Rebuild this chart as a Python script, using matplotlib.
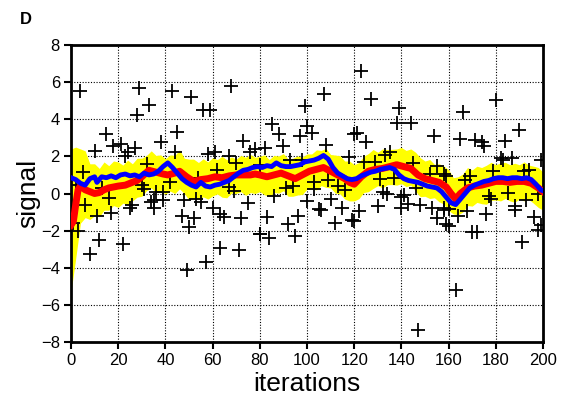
import matplotlib
matplotlib.use("Agg")
import matplotlib.pyplot as plt
import numpy as np

plt.rcParams['font.family'] = ['Liberation Sans', 'DejaVu Sans']

# scatter observations (iteration, signal)
obs_x = [4, 29, 33, 28, 15, 10, 18, 21, 24, 23, 27, 38, 32, 5, 13, 16, 30, 31, 36, 39, 35, 34, 35, 6, 11, 17, 25, 26, 1, 3, 12, 8, 22, 2,
         43, 51, 56, 59, 68, 45, 73, 44, 58, 61, 67, 70, 76, 78, 62, 54, 42, 69, 67, 39, 48, 53, 55, 60, 75, 47, 52, 50, 63, 65, 72, 63, 71, 57, 49, 80,
         107, 99, 85, 88, 97, 100, 102, 90, 82, 108, 120, 118, 80, 93, 98, 103, 109, 113, 116, 91, 94, 103, 86, 100, 110, 105, 106, 115, 83, 96, 92, 112, 120, 80, 84, 95,
         123, 127, 139, 138, 144, 121, 125, 154, 124, 129, 133, 135, 145, 155, 158, 152, 131, 137, 146, 132, 134, 140, 141, 143, 140, 148, 130, 122, 119, 153, 155, 158, 159, 147,
         180, 166, 190, 165, 171, 174, 175, 184, 182, 183, 187, 199, 159, 167, 169, 179, 192, 194, 177, 178, 185, 193, 198, 158, 160, 164, 168, 176, 188, 188, 196, 160, 170, 172, 191, 198, 199, 163]
obs_y = [5.52, 5.67, 4.77, 4.23, 3.19, 2.29, 2.58, 2.69, 2.22, 2.04, 2.43, 2.79, 1.61, 1.17, 0.28, -0.26, 0.46, 0.24, 0.10, -0.37, -0.33, -0.44, -0.76, -0.62, -1.19, -1.05, -0.76, -0.62, -1.61, -2.02, -2.49, -3.24, -2.74, 0.46,
         5.52, 5.20, 4.50, 4.50, 5.78, 3.33, 2.83, 2.25, 2.11, 2.25, 2.04, 1.64, 2.22, 2.40, 1.25, 0.85, 0.64, 0.13, 0.35, 0.10, -0.37, -0.30, -0.44, -0.80, -0.51, -1.23, -1.34, -1.79, -1.12, -1.27, -1.34, -2.92, -3.04, -3.71, -4.14, -2.20,
         5.34, 4.70, 3.73, 3.19, 3.08, 3.65, 3.26, 2.54, 2.47, 2.61, 3.19, 1.97, 1.54, 1.79, 1.79, 0.64, 0.71, 0.39, 0.20, 0.28, 0.39, 0.24, -0.15, -0.40, -0.30, -0.84, -0.91, -0.80, -1.27, -1.19, -1.66, -1.61, -1.48, -2.20, -2.38, -2.27,
         6.60, 5.09, 4.59, 3.78, 3.78, 3.24, 2.79, 3.11, 1.68, 1.68, 2.07, 2.25, 1.63, 1.50, 1.03, 1.03, 0.78, 0.85, 0.31, 0.06, -0.01, -0.19, -0.08, -0.58, -0.80, -0.62, -0.66, -0.94, -1.43, -0.80, -1.34, -0.89, -1.66, -7.35,
         5.04, 4.37, 3.42, 2.94, 2.88, 2.76, 2.58, 2.83, 1.93, 1.80, 1.93, 1.80, 0.96, 0.73, 0.96, 1.21, 1.21, 1.27, -0.12, -0.30, 0.01, -0.35, -0.04, -0.80, -0.84, -1.19, -0.94, -1.12, -0.66, -0.89, -1.25, -1.73, -2.09, -2.09, -2.60, -1.97, -1.70, -5.20]

# red running estimate
red_x = [0, 1, 2, 3, 4, 6, 8, 10, 12, 14, 16, 18, 20, 23, 26, 28, 30, 33, 36, 39, 41, 44, 46, 49, 52, 55, 58, 61, 64, 67, 70, 73, 76, 78, 80,
         83, 86, 89, 92, 95, 98, 101, 104, 107, 110, 113, 116, 118, 120, 123, 126, 129, 132, 135, 138, 141, 144, 147, 150, 153, 156, 159, 161, 163,
         165, 168, 171, 174, 177, 180, 183, 186, 189, 192, 195, 198, 200]
red_y = [-1.7, -1.5, -0.6, 0.2, 0.4, 0.2, 0.1, 0.0, 0.05, 0.2, 0.3, 0.35, 0.4, 0.45, 0.6, 0.7, 0.9, 1.25, 1.15, 1.05, 1.0, 1.1, 1.2, 0.9, 0.65,
         0.75, 0.8, 0.9, 0.85, 0.95, 1.0, 1.0, 1.0, 1.05, 1.0, 0.9, 1.0, 1.1, 0.95, 0.8, 1.0, 1.2, 1.3, 1.4, 1.2, 1.0, 0.8, 0.6, 0.5, 0.9, 1.2, 1.3,
         1.35, 1.45, 1.55, 1.45, 1.35, 1.0, 0.8, 0.7, 0.6, 0.35, 0.0, -0.3, 0.0, 0.3, 0.4, 0.45, 0.55, 0.65, 0.65, 0.6, 0.65, 0.65, 0.55, 0.3, 0.1]

# yellow uncertainty band: centre, offset above, offset below (every 2 iterations)
band_x = list(range(0, 201, 2))
band_c = [-1.7, -0.6, 0.4, 0.2, 0.1, 0.0, 0.05, 0.2, 0.3, 0.35, 0.4, 0.43, 0.5, 0.6, 0.7, 0.9, 1.15, 1.2, 1.15, 1.08,
          1.02, 1.03, 1.1, 1.2, 1.0, 0.8, 0.65, 0.72, 0.77, 0.8, 0.87, 0.88, 0.85, 0.92, 0.97, 1.0, 1.0, 1.0, 1.0, 1.05,
          1.0, 0.93, 0.93, 1.0, 1.07, 1.05, 0.95, 0.85, 0.87, 1.0, 1.13, 1.23, 1.3, 1.37, 1.33, 1.2, 1.07, 0.93, 0.8, 0.6,
          0.5, 0.77, 1.0, 1.2, 1.27, 1.32, 1.35, 1.42, 1.48, 1.55, 1.48, 1.42, 1.35, 1.12, 0.93, 0.8, 0.73, 0.67, 0.6, 0.43,
          0.18, -0.15, -0.15, 0.1, 0.3, 0.37, 0.42, 0.45, 0.52, 0.58, 0.65, 0.65, 0.63, 0.6, 0.63, 0.65, 0.65, 0.58, 0.47, 0.3,
          0.1]
band_up = [4.1, 3.1, 2.0, 2.1, 1.5, 1.6, 1.3, 1.5, 1.2, 1.4, 1.3, 1.1, 1.3, 1.0, 1.2, 1.0, 0.9, 1.1, 0.9, 1.0,
           0.85, 1.05, 0.95, 1.15, 0.9, 1.05, 1.2, 0.95, 1.1, 0.9, 1.05, 0.95, 1.15, 0.9, 1.0, 0.85, 1.05, 0.95, 1.1, 0.9,
           1.0, 1.15, 0.9, 1.05, 0.95, 1.1, 0.9, 1.05, 1.15, 0.95, 1.0, 0.9, 1.05, 0.95, 1.1, 0.9, 1.0, 1.1, 0.95, 1.15,
           1.05, 0.9, 1.0, 0.95, 1.1, 0.9, 1.05, 0.95, 0.9, 0.85, 1.0, 0.9, 1.05, 1.1, 1.0, 0.95, 1.1, 0.9, 1.0, 1.05,
           1.1, 1.0, 1.05, 0.95, 1.1, 0.9, 1.05, 0.95, 1.0, 1.1, 0.9, 1.0, 1.05, 0.95, 1.0, 0.9, 1.05, 0.95, 1.0, 1.1,
           1.05]
band_dn = [3.6, 2.9, 2.0, 1.5, 1.5, 1.2, 1.3, 1.1, 1.2, 1.0, 1.15, 0.95, 1.1, 1.0, 0.9, 1.05, 1.0, 0.9, 1.1, 0.95,
           1.05, 0.9, 1.1, 0.95, 1.0, 1.15, 0.9, 1.05, 0.95, 1.1, 1.0, 0.9, 1.05, 1.15, 0.95, 1.0, 0.9, 1.1, 0.95, 1.05,
           0.9, 1.0, 1.1, 0.95, 1.05, 0.9, 1.1, 1.0, 0.95, 1.05, 0.9, 1.0, 1.1, 0.95, 1.0, 0.9, 1.05, 0.95, 1.1, 1.0,
           0.9, 1.05, 0.95, 1.1, 1.0, 0.9, 1.05, 0.95, 1.0, 1.1, 0.95, 1.05, 0.9, 1.0, 1.1, 0.95, 1.0, 0.9, 1.05, 1.0,
           1.1, 0.95, 1.0, 1.1, 0.95, 1.05, 0.9, 1.0, 1.1, 0.95, 1.0, 1.05, 0.9, 1.0, 1.1, 0.95, 1.05, 0.9, 1.0, 1.05,
           1.0]

# blue estimate
blue_x = [0, 2, 4, 6, 8, 10, 11, 13, 15, 17, 19, 21, 23, 25, 27, 29, 31, 33, 35, 37, 39, 41, 43, 45, 47, 49, 51, 53, 55, 57, 59, 61, 63, 65, 67,
          69, 71, 73, 75, 77, 79, 81, 83, 85, 87, 89, 91, 93, 95, 97, 99, 101, 103, 105, 107, 109, 111, 113, 115, 117, 119, 121, 123, 125, 127,
          129, 131, 133, 135, 137, 139, 141, 143, 145, 147, 149, 151, 153, 155, 157, 159, 161, 163, 165, 167, 169, 171, 173, 175, 177, 179, 181,
          183, 185, 187, 189, 191, 193, 195, 197, 199, 200]
blue_y = [0.85, 0.75, 0.55, 0.45, 0.8, 0.9, 0.6, 0.9, 0.85, 0.95, 0.85, 1.0, 1.05, 0.95, 1.0, 0.9, 1.1, 1.0, 1.05, 1.2, 1.45, 1.65, 1.4, 1.1,
          0.8, 0.6, 0.45, 0.35, 0.6, 0.4, 0.35, 0.45, 0.5, 0.6, 0.7, 0.9, 1.1, 1.25, 1.3, 1.4, 1.45, 1.4, 1.5, 1.45, 1.65, 1.5, 1.45, 1.45, 1.5,
          1.55, 1.7, 1.75, 1.8, 1.9, 2.05, 1.85, 1.4, 1.1, 0.95, 0.8, 0.75, 0.8, 0.95, 1.05, 1.15, 1.2, 1.3, 1.35, 1.4, 1.3, 1.0, 0.8, 0.7, 0.65,
          0.6, 0.5, 0.4, 0.35, 0.3, 0.1, -0.2, -0.5, -0.6, -0.3, 0.0, 0.3, 0.45, 0.55, 0.65, 0.7, 0.8, 0.85, 0.85, 0.8, 0.85, 0.85, 0.8, 0.85,
          0.75, 0.5, 0.2, 0.15]

x_ticks = [0, 20, 40, 60, 80, 100, 120, 140, 160, 180, 200]
y_ticks = [-8, -6, -4, -2, 0, 2, 4, 6, 8]

fig = plt.figure(figsize=(5.66, 3.99), dpi=100)
ax = fig.add_axes([71/566, 57/399, 472/566, 297/399])

bc = np.array(band_c, float)
ax.fill_between(band_x, bc - np.array(band_dn), bc + np.array(band_up), color='#ffff00', lw=0, zorder=2)
ax.plot(obs_x, obs_y, ls='none', marker='+', ms=10, mew=1.3, color='black', zorder=3)
ax.plot(red_x, red_y, color='#ff0000', lw=5, zorder=4, solid_joinstyle='round')
ax.plot(blue_x, blue_y, color='#0000ff', lw=3.5, zorder=5, solid_joinstyle='round')

ax.set_xlim(0, 200)
ax.set_ylim(-8, 8)
ax.set_xticks(x_ticks)
ax.set_yticks(y_ticks)
ax.grid(True, color='black', ls=(0, (1, 1.5)), lw=0.8, zorder=1)
ax.set_axisbelow(True)
for s in ax.spines.values():
    s.set_linewidth(2)
ax.tick_params(direction='out', length=5, width=1.5, labelsize=12, pad=3)
ax.set_xlabel('iterations', fontsize=19, labelpad=2.5)
ax.set_ylabel('signal', fontsize=19, labelpad=0.5)
fig.text(20/566, 1 - 20/399, 'D', fontsize=12, fontweight='bold', ha='left', va='center')

fig.savefig('out.png', dpi=100)
